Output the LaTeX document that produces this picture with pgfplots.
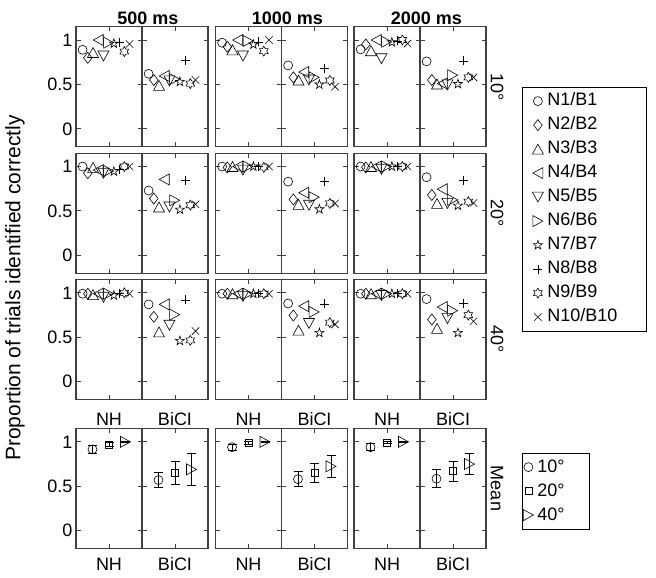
\documentclass[border=0pt]{standalone}
\usepackage{pgfplots}
\pgfplotsset{compat=1.18}
\usepackage{pgfplotstable}
\usepackage{fontspec}
\setmainfont{Liberation Sans}
\definecolor{frame}{HTML}{404040}

\pgfdeclareplotmark{mCirc}{\pgfpathcircle{\pgfpointorigin}{4.5pt}\pgfusepathqstroke}
\pgfdeclareplotmark{mSq}{\pgfpathrectangle{\pgfqpoint{-3.5pt}{-3.5pt}}{\pgfqpoint{7pt}{7pt}}\pgfusepathqstroke}
\pgfdeclareplotmark{mDiam}{\pgfpathmoveto{\pgfqpoint{0pt}{5.5pt}}\pgfpathlineto{\pgfqpoint{4.3pt}{0pt}}\pgfpathlineto{\pgfqpoint{0pt}{-5.5pt}}\pgfpathlineto{\pgfqpoint{-4.3pt}{0pt}}\pgfpathclose\pgfusepathqstroke}
\pgfdeclareplotmark{mTriU}{\pgfpathmoveto{\pgfqpoint{0pt}{5pt}}\pgfpathlineto{\pgfqpoint{5.5pt}{-5pt}}\pgfpathlineto{\pgfqpoint{-5.5pt}{-5pt}}\pgfpathclose\pgfusepathqstroke}
\pgfdeclareplotmark{mTriD}{\pgfpathmoveto{\pgfqpoint{0pt}{-5pt}}\pgfpathlineto{\pgfqpoint{5.5pt}{5pt}}\pgfpathlineto{\pgfqpoint{-5.5pt}{5pt}}\pgfpathclose\pgfusepathqstroke}
\pgfdeclareplotmark{mTriL}{\pgfpathmoveto{\pgfqpoint{-5pt}{0pt}}\pgfpathlineto{\pgfqpoint{5pt}{5.5pt}}\pgfpathlineto{\pgfqpoint{5pt}{-5.5pt}}\pgfpathclose\pgfusepathqstroke}
\pgfdeclareplotmark{mTriR}{\pgfpathmoveto{\pgfqpoint{5pt}{0pt}}\pgfpathlineto{\pgfqpoint{-5pt}{5.5pt}}\pgfpathlineto{\pgfqpoint{-5pt}{-5.5pt}}\pgfpathclose\pgfusepathqstroke}
\pgfdeclareplotmark{mPent}{%
 \pgfpathmoveto{\pgfpointpolar{90}{4.8pt}}%
 \pgfpathlineto{\pgfpointpolar{126}{1.85pt}}\pgfpathlineto{\pgfpointpolar{162}{4.8pt}}%
 \pgfpathlineto{\pgfpointpolar{198}{1.85pt}}\pgfpathlineto{\pgfpointpolar{234}{4.8pt}}%
 \pgfpathlineto{\pgfpointpolar{270}{1.85pt}}\pgfpathlineto{\pgfpointpolar{306}{4.8pt}}%
 \pgfpathlineto{\pgfpointpolar{342}{1.85pt}}\pgfpathlineto{\pgfpointpolar{18}{4.8pt}}%
 \pgfpathlineto{\pgfpointpolar{54}{1.85pt}}\pgfpathclose\pgfusepathqstroke}
\pgfdeclareplotmark{mHex}{%
 \pgfpathmoveto{\pgfpointpolar{90}{5pt}}%
 \pgfpathlineto{\pgfpointpolar{120}{2.9pt}}\pgfpathlineto{\pgfpointpolar{150}{5pt}}%
 \pgfpathlineto{\pgfpointpolar{180}{2.9pt}}\pgfpathlineto{\pgfpointpolar{210}{5pt}}%
 \pgfpathlineto{\pgfpointpolar{240}{2.9pt}}\pgfpathlineto{\pgfpointpolar{270}{5pt}}%
 \pgfpathlineto{\pgfpointpolar{300}{2.9pt}}\pgfpathlineto{\pgfpointpolar{330}{5pt}}%
 \pgfpathlineto{\pgfpointpolar{0}{2.9pt}}\pgfpathlineto{\pgfpointpolar{30}{5pt}}%
 \pgfpathlineto{\pgfpointpolar{60}{2.9pt}}\pgfpathclose\pgfusepathqstroke}
\pgfdeclareplotmark{mPlus}{\pgfpathmoveto{\pgfqpoint{-4.5pt}{0pt}}\pgfpathlineto{\pgfqpoint{4.5pt}{0pt}}\pgfpathmoveto{\pgfqpoint{0pt}{-4.5pt}}\pgfpathlineto{\pgfqpoint{0pt}{4.5pt}}\pgfusepathqstroke}
\pgfdeclareplotmark{mX}{\pgfpathmoveto{\pgfqpoint{-3.7pt}{-3.7pt}}\pgfpathlineto{\pgfqpoint{3.7pt}{3.7pt}}\pgfpathmoveto{\pgfqpoint{-3.7pt}{3.7pt}}\pgfpathlineto{\pgfqpoint{3.7pt}{-3.7pt}}\pgfusepathqstroke}

% 10 deg
\pgfplotstableread{
x     c n500  b500  n1000 b1000 n2000 b2000
0.100 a 0.89  0.62  0.97  0.715 0.895 0.76
0.179 b 0.80  0.55  0.925 0.58  0.95  0.55
0.258 c 0.86  0.49  0.89  0.55  0.88  0.505
0.337 d 1.00  0.595 1.00  0.64  1.00  0.51
0.416 e 0.82  0.54  0.82  0.55  0.79  0.495
0.495 f 0.97  0.56  0.99  0.58  0.98  0.605
0.574 g 0.96  0.53  0.95  0.50  0.975 0.505
0.653 h 0.97  0.77  0.98  0.685 0.99  0.765
0.732 i 0.87  0.51  0.875 0.545 1.00  0.58
0.811 j 0.955 0.55  1.00  0.475 0.96  0.58
}\rowA
% 20 deg
\pgfplotstableread{
x     c n500  b500  n1000 b1000 n2000 b2000
0.100 a 1.00  0.73  1.00  0.83  1.00  0.88
0.179 b 0.925 0.64  0.99  0.63  0.99  0.68
0.258 c 0.99  0.545 1.00  0.575 1.00  0.585
0.337 d 0.96  0.855 1.00  0.705 1.00  0.745
0.416 e 0.925 0.545 0.96  0.565 0.97  0.585
0.495 f 0.95  0.62  1.00  0.655 1.00  0.625
0.574 g 0.945 0.515 1.00  0.52  1.00  0.56
0.653 h 0.97  0.84  1.00  0.83  1.00  0.84
0.732 i 1.00  0.565 0.99  0.585 1.00  0.605
0.811 j 1.00  0.575 1.00  0.585 1.00  0.59
}\rowB
% 40 deg
\pgfplotstableread{
x     c n500  b500  n1000 b1000 n2000 b2000
0.100 a 0.99  0.87  0.99  0.88  0.99  0.93
0.179 b 0.99  0.73  0.99  0.745 0.99  0.70
0.258 c 0.98  0.56  0.99  0.58  0.99  0.60
0.337 d 0.99  0.87  0.99  0.85  0.99  0.84
0.416 e 0.95  0.635 0.96  0.655 0.97  0.71
0.495 f 0.99  0.755 0.99  0.785 0.99  0.80
0.574 g 0.97  0.46  0.99  0.55  0.99  0.55
0.653 h 0.99  0.92  0.99  0.875 0.99  0.88
0.732 i 1.00  0.465 0.99  0.665 0.99  0.75
0.811 j 0.99  0.57  0.99  0.645 0.99  0.68
}\rowC
% mean
\pgfplotstableread{
x    c n500  n500e b500 b500e n1000 n1000e b1000 b1000e n2000 n2000e b2000 b2000e
0.25 a 0.915 0.048 0.57 0.088 0.94  0.035  0.58  0.085  0.94  0.04   0.585 0.10
0.50 s 0.97  0.02  0.65 0.125 0.99  0.015  0.65  0.11   0.99  0.012  0.67  0.11
0.75 r 1.00  0.006 0.69 0.18  1.00  0.006  0.725 0.125  1.00  0.006  0.75  0.12
}\rowD

\pgfplotsset{
  half/.style={scale only axis, width=66pt, height=120pt, anchor=north west,
    xmin=0, xmax=1, ymin=-0.2, ymax=1.15, xtick={0.5}, xticklabels={},
    ytick={0,0.5,1}, yticklabels={}, tick align=inside, major tick length=4.5pt,
    xtick pos=both, ytick pos=both, clip=false,
    axis line style={draw=frame, line width=1.1pt},
    every tick/.style={draw=frame, line width=1pt}},
  leftmost/.style={yticklabel={\pgfmathprintnumber{\tick}}, yticklabels={0,0.5,1},
    yticklabel style={font=\fontsize{18}{20}\selectfont, /pgf/number format/assume math mode=true}},
  pts/.style={scatter, only marks, black, line width=0.6pt, scatter src=explicit symbolic,
    scatter/classes={a={mark=mCirc}, b={mark=mDiam}, c={mark=mTriU}, d={mark=mTriL},
      e={mark=mTriD}, f={mark=mTriR}, g={mark=mPent}, h={mark=mPlus}, i={mark=mHex}, j={mark=mX}}},
  mpts/.style={scatter, only marks, black, line width=0.6pt, scatter src=explicit symbolic,
    scatter/classes={a={mark=mCirc}, s={mark=mSq}, r={mark=mTriR}}},
}

\newcommand{\panel}[5]{%
\begin{axis}[half, at={(#1pt,-#2pt)}, #5]
\addplot[pts] table[x=x, y=#4, meta=c] {#3};
\end{axis}}
\newcommand{\mpanel}[5]{%
\begin{axis}[half, at={(#1pt,-#2pt)}, #5]
\addplot[mpts, error bars/.cd, y dir=both, y explicit, error mark=-,
  error mark options={black, rotate=90, mark size=4.5pt, line width=0.8pt},
  error bar style={black, line width=0.8pt}] table[x=x, y=#4, y error=#4e, meta=c] {#3};
\end{axis}}

\begin{document}
\begin{tikzpicture}[font=\fontsize{18}{21}\selectfont]
\path[use as bounding box] (0,0) rectangle (656pt,-578pt);
% row 1
\panel{76}{26.7}{\rowA}{n500}{leftmost}
\panel{142}{26.7}{\rowA}{b500}{}
\panel{215.5}{26.7}{\rowA}{n1000}{}
\panel{281.5}{26.7}{\rowA}{b1000}{}
\panel{354}{26.7}{\rowA}{n2000}{}
\panel{420}{26.7}{\rowA}{b2000}{}
% row 2
\panel{76}{153.2}{\rowB}{n500}{leftmost}
\panel{142}{153.2}{\rowB}{b500}{}
\panel{215.5}{153.2}{\rowB}{n1000}{}
\panel{281.5}{153.2}{\rowB}{b1000}{}
\panel{354}{153.2}{\rowB}{n2000}{}
\panel{420}{153.2}{\rowB}{b2000}{}
% row 3
\panel{76}{279.5}{\rowC}{n500}{leftmost}
\panel{142}{279.5}{\rowC}{b500}{}
\panel{215.5}{279.5}{\rowC}{n1000}{}
\panel{281.5}{279.5}{\rowC}{b1000}{}
\panel{354}{279.5}{\rowC}{n2000}{}
\panel{420}{279.5}{\rowC}{b2000}{}
% row 4
\mpanel{76}{428.5}{\rowD}{n500}{leftmost}
\mpanel{142}{428.5}{\rowD}{b500}{}
\mpanel{215.5}{428.5}{\rowD}{n1000}{}
\mpanel{281.5}{428.5}{\rowD}{b1000}{}
\mpanel{354}{428.5}{\rowD}{n2000}{}
\mpanel{420}{428.5}{\rowD}{b2000}{}

% legends
\begin{axis}[at={(522pt,-86.7pt)}, anchor=north west, hide axis, scale only axis,
  width=10pt, height=10pt, xmin=0, xmax=1, ymin=0, ymax=1,
  legend cell align=left,
  legend style={at={(0,1)}, anchor=north west, draw=black, line width=0.8pt,
    font=\fontsize{18}{20}\selectfont, inner xsep=10pt, inner ysep=2pt,
    row sep=0pt, nodes={text height=12.5pt, text depth=3.5pt, inner sep=4pt},
    /tikz/every even column/.style={column sep=0pt}}]
\addlegendimage{only marks, black, line width=0.6pt, mark=mCirc}\addlegendentry{N1/B1}
\addlegendimage{only marks, black, line width=0.6pt, mark=mDiam}\addlegendentry{N2/B2}
\addlegendimage{only marks, black, line width=0.6pt, mark=mTriU}\addlegendentry{N3/B3}
\addlegendimage{only marks, black, line width=0.6pt, mark=mTriL}\addlegendentry{N4/B4}
\addlegendimage{only marks, black, line width=0.6pt, mark=mTriD}\addlegendentry{N5/B5}
\addlegendimage{only marks, black, line width=0.6pt, mark=mTriR}\addlegendentry{N6/B6}
\addlegendimage{only marks, black, line width=0.6pt, mark=mPent}\addlegendentry{N7/B7}
\addlegendimage{only marks, black, line width=0.6pt, mark=mPlus}\addlegendentry{N8/B8}
\addlegendimage{only marks, black, line width=0.6pt, mark=mHex}\addlegendentry{N9/B9}
\addlegendimage{only marks, black, line width=0.6pt, mark=mX}\addlegendentry{N10/B10\rule{15pt}{0pt}}
\end{axis}
\begin{axis}[at={(522pt,-452.7pt)}, anchor=north west, hide axis, scale only axis,
  width=10pt, height=10pt, xmin=0, xmax=1, ymin=0, ymax=1,
  legend cell align=left,
  legend style={at={(0,1)}, anchor=north west, draw=black, line width=0.8pt,
    font=\fontsize{18}{20}\selectfont, inner xsep=1pt, inner ysep=2pt,
    row sep=0pt, nodes={text height=13pt, text depth=3pt, inner sep=4pt},
    /tikz/every even column/.style={column sep=0pt},
    legend image code/.code={\draw[#1] plot coordinates {(0.2cm,0cm)};}}]
\addlegendimage{only marks, black, line width=0.6pt, mark=mCirc}\addlegendentry{10°\rule{20pt}{0pt}}
\addlegendimage{only marks, black, line width=0.6pt, mark=mSq}\addlegendentry{20°}
\addlegendimage{only marks, black, line width=0.6pt, mark=mTriR}\addlegendentry{40°}
\end{axis}

% titles and labels
\node[font=\fontsize{18}{21}\selectfont\bfseries] at (148pt,-18pt) {500 ms};
\node[font=\fontsize{18}{21}\selectfont\bfseries] at (287.5pt,-18pt) {1000 ms};
\node[font=\fontsize{18}{21}\selectfont\bfseries] at (426.5pt,-18pt) {2000 ms};
\foreach \xx/\lab in {109/NH,175/BiCI,248.5/NH,314.5/BiCI,387/NH,453/BiCI}{
  \node at (\xx pt,-419pt) {\lab};
  \node at (\xx pt,-564pt) {\lab};
}
\node[rotate=-90] at (497pt,-86.7pt) {10°};
\node[rotate=-90] at (497pt,-213pt) {20°};
\node[rotate=-90] at (497pt,-339.5pt) {40°};
\node[rotate=-90] at (497pt,-488.5pt) {Mean};
\node[rotate=90, font=\fontsize{21}{24}\selectfont] at (15pt,-288pt) {Proportion of trials identified correctly};
\end{tikzpicture}
\end{document}
